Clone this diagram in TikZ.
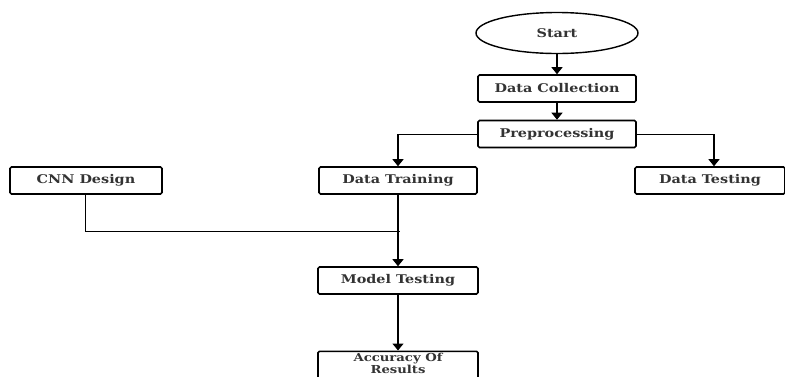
\documentclass[tikz,border=0pt]{standalone}
\usepackage{fontspec}
\setmainfont[FakeStretch=1.2]{DejaVu Serif}
\usetikzlibrary{arrows.meta,shapes.geometric}
\begin{document}
\begin{tikzpicture}[x=1pt,y=-1pt,
  lbl/.style={font=\bfseries\fontsize{12}{11.5}\selectfont,text=black!80},
  box/.style={lbl,draw=black,line width=1.6pt,rounded corners=1.5pt,minimum width=158pt,minimum height=27pt,inner sep=0pt},
  term/.style={lbl,draw=black,line width=1.4pt,ellipse,minimum width=162pt,minimum height=41pt,inner sep=0pt},
  arr/.style={line width=1.4pt,-{Triangle[length=7pt,width=11pt]}},
  ln/.style={line width=0.9pt}]
\useasboundingbox (0,0) rectangle (785,376);
\clip (0,0) rectangle (785,376);
\fill[white] (0,0) rectangle (785,376);
\node[term] (start) at (557,33) {Start};
\node[box] (dc) at (557,88.5) {Data Collection};
\node[box] (pre) at (557,134) {Preprocessing};
\node[box,minimum width=152pt] (cnn) at (86,180.5) {CNN Design};
\node[box] (train) at (398,180.5) {Data Training};
\node[box,minimum width=150pt] (test) at (710,180.5) {Data Testing};
\node[box,minimum width=160pt] (model) at (398,280.5) {Model Testing};
\node[box,minimum width=160pt,minimum height=32pt,anchor=north] (acc) at (398,350.5) {};
\node[lbl,font=\bfseries\fontsize{11}{10.5}\selectfont,align=center,inner sep=0pt] (acctext) at (398,363) {Accuracy Of\\Results};
\coordinate (tl) at (398,134);
\coordinate (tr) at (714,134);
\coordinate (jn) at (400,231);
\coordinate (cb) at (85,231);
\draw[arr] (start) -- (dc);
\draw[arr] (dc) -- (pre);
\draw[ln] (pre.west) -- (tl);
\draw[arr] (tl) -- (train.north);
\draw[ln] (pre.east) -- (tr);
\draw[arr] (tr) -- (test.north -| tr);
\draw[ln] (cnn.south -| cb) -- (cb) -- (jn);
\draw[arr] (train) -- (model);
\draw[arr] (model) -- (acc);
\end{tikzpicture}
\end{document}
